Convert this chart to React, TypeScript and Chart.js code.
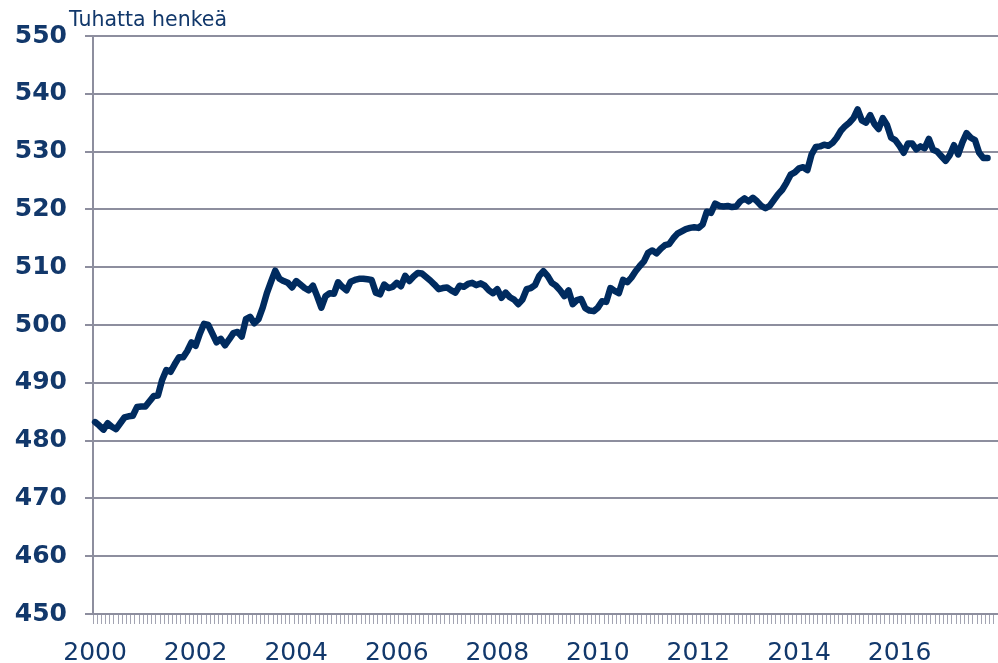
import React, { useEffect, useRef } from "react";
import { Chart, registerables } from "chart.js";

Chart.register(...registerables);

const startYear = 2000;
const endYear = 2017;
const months: string[] = [];
for (let y = startYear; y <= endYear; y++) {
  for (let m = 1; m <= 12; m++) months.push(`${y}-${m < 10 ? "0" + m : m}`);
}

const employment: number[] = [
  483.2, 482.6, 481.9, 483.0, 482.4, 482.0, 483.0, 484.0, 484.2, 484.3, 485.8, 485.9,
  485.9, 486.8, 487.7, 487.8, 490.5, 492.2, 491.9, 493.2, 494.4, 494.4, 495.5, 497.0,
  496.4, 498.5, 500.2, 500.0, 498.5, 497.0, 497.6, 496.5, 497.5, 498.6, 498.8, 498.0,
  501.0, 501.4, 500.3, 501.0, 503.0, 505.5, 507.5, 509.4, 508.0, 507.6, 507.3, 506.5,
  507.6, 507.0, 506.4, 506.0, 506.8, 505.0, 503.0, 505.0, 505.5, 505.4, 507.4, 506.6,
  506.0, 507.5, 507.8, 508.0, 508.0, 507.9, 507.8, 505.6, 505.3, 507.0, 506.4, 506.6,
  507.3, 506.7, 508.5, 507.6, 508.4, 509.0, 508.9, 508.3, 507.7, 507.0, 506.2, 506.4,
  506.5, 506.0, 505.6, 506.8, 506.6, 507.1, 507.3, 506.9, 507.2, 506.8, 506.0, 505.5,
  506.2, 504.7, 505.6, 504.8, 504.4, 503.6, 504.4, 506.2, 506.4, 506.9, 508.5, 509.3,
  508.5, 507.3, 506.8, 506.0, 505.0, 506.0, 503.6, 504.3, 504.5, 502.9, 502.5, 502.4,
  503.0, 504.1, 504.0, 506.4, 505.9, 505.5, 507.8, 507.4, 508.2, 509.3, 510.2, 511.0,
  512.5, 512.9, 512.4, 513.2, 513.8, 514.0, 515.0, 515.8, 516.2, 516.6, 516.8, 516.9,
  516.8, 517.4, 519.6, 519.4, 521.0, 520.6, 520.5, 520.6, 520.4, 520.5, 521.4, 521.9,
  521.4, 522.0, 521.4, 520.6, 520.2, 520.6, 521.6, 522.6, 523.4, 524.6, 526.0, 526.4,
  527.1, 527.3, 526.8, 529.5, 530.8, 530.9, 531.2, 531.0, 531.5, 532.4, 533.6, 534.4,
  535.0, 535.8, 537.3, 535.4, 535.0, 536.3, 534.8, 533.9, 535.8, 534.6, 532.4, 532.0,
  531.0, 529.8, 531.4, 531.4, 530.4, 530.9, 530.6, 532.2, 530.3, 530.0, 529.2, 528.4,
  529.4, 531.1, 529.5, 531.6, 533.2, 532.4, 532.0, 529.8, 528.9, 528.9,
];

const yMin = 450;
const yMax = 550;
const yStep = 10;
const unitTitle = "Tuhatta henkeä";

const NAVY = "#002b5f";
const TEXT = "#12386b";
const GRID = "#8d8e9e";

export default function App() {
  const ref = useRef<HTMLCanvasElement | null>(null);
  useEffect(() => {
    if (!ref.current) return;
    const titlePlugin = {
      id: "unitTitle",
      afterDraw(chart: any) {
        const ctx = chart.ctx;
        ctx.save();
        ctx.font = "20.5px 'DejaVu Sans'";
        ctx.fillStyle = TEXT;
        ctx.textAlign = "left";
        ctx.textBaseline = "alphabetic";
        ctx.fillText(unitTitle, 69, 26);
        ctx.restore();
      },
    };
    const chart = new Chart(ref.current, {
      type: "line",
      data: {
        labels: months,
        datasets: [
          {
            data: employment,
            borderColor: NAVY,
            borderWidth: 6.5,
            pointRadius: 0,
            tension: 0,
            borderJoinStyle: "round",
            borderCapStyle: "round",
            fill: false,
          },
        ],
      },
      options: {
        responsive: false,
        animation: false,
        events: [],
        layout: { padding: { top: 36, right: 0, left: 0, bottom: 0 } },
        plugins: { legend: { display: false }, tooltip: { enabled: false } },
        scales: {
          x: {
            type: "category",
            offset: true,
            grid: {
              offset: true,
              drawOnChartArea: false,
              drawTicks: true,
              tickLength: 10,
              color: "#a3a4b2",
              lineWidth: 1,
            },
            border: { color: GRID, width: 2 },
            ticks: {
              autoSkip: false,
              maxRotation: 0,
              minRotation: 0,
              padding: 14,
              color: TEXT,
              font: { family: "'DejaVu Sans'", size: 25 },
              callback: (_v: any, i: number) => (i % 24 === 0 ? months[i].slice(0, 4) : ""),
            },
            afterFit: (s: any) => {
              s.height = 49;
              s.paddingLeft = 0;
              s.paddingRight = 0;
            },
          },
          y: {
            min: yMin,
            max: yMax,
            grid: { color: GRID, lineWidth: 2, tickLength: 8, drawTicks: true },
            border: { color: GRID, width: 2 },
            ticks: {
              stepSize: yStep,
              padding: 18,
              color: TEXT,
              font: { family: "'DejaVu Sans'", size: 25, weight: "bold" },
            },
            afterFit: (s: any) => {
              s.width = 93;
            },
          },
        },
      },
      plugins: [titlePlugin],
    });
    return () => chart.destroy();
  }, []);
  return (
    <div style={{ position: "fixed", left: 0, top: 0, width: 998, height: 663, background: "#fff" }}>
      <canvas ref={ref} width={998} height={663} style={{ display: "block" }} />
    </div>
  );
}
